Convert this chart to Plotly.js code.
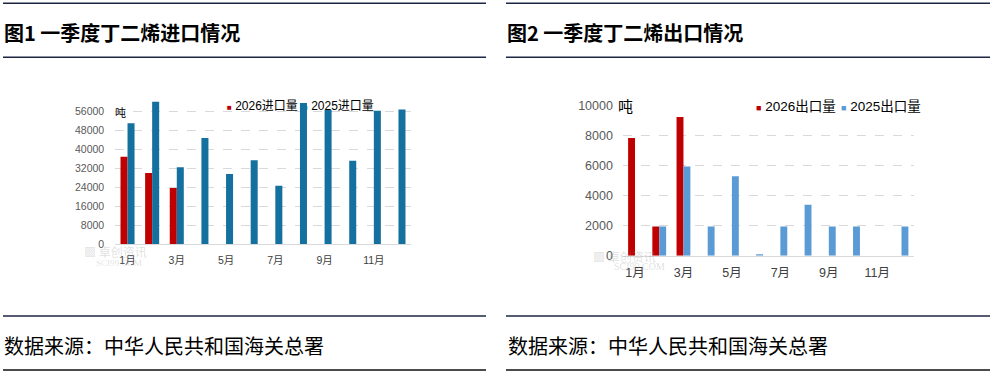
<!DOCTYPE html>
<html>
<head>
<meta charset="utf-8">
<script src="https://cdn.plot.ly/plotly-3.0.1.min.js"></script>
<style>
html,body{margin:0;padding:0;background:#fff;}
#chart{width:996px;height:375px;}
</style>
</head>
<body>
<div id="chart"></div>
<script>
// ---- data ----
var months = ['1月','2月','3月','4月','5月','6月','7月','8月','9月','10月','11月','12月'];
var tickMonths = ['1月','3月','5月','7月','9月','11月'];
var import2026 = [36900, 30000, 23700];
var import2025 = [51000, 60000, 32500, 44800, 29600, 35400, 24700, 59500, 56700, 35200, 56300, 56800];
var export2026 = [7850, 1950, 9250];
var export2025 = [0, 1950, 5950, 1950, 5300, 100, 1950, 3400, 1950, 1950, 0, 1950];
var importNames = ['2026进口量', '2025进口量'];
var exportNames = ['2026出口量', '2025出口量'];
var importTicks = [0, 8000, 16000, 24000, 32000, 40000, 48000, 56000];
var exportTicks = [0, 2000, 4000, 6000, 8000, 10000];
var titles = ['图1 一季度丁二烯进口情况', '图2 一季度丁二烯出口情况'];
var sourceText = '数据来源：中华人民共和国海关总署';
var unit = '吨';

// ---- styles ----
var W = 996, H = 375;
var RED = '#c00000', BLUE1 = '#14709f', BLUE2 = '#5b9bd5';
var FONT = 'Liberation Sans, Noto Sans CJK SC, sans-serif';
var CJK = 'Noto Sans CJK SC, sans-serif';
function px(x){return x / W;}
function py(y){return 1 - y / H;}

var traces = [
  {type:'bar', x: months.slice(0, import2026.length), y: import2026, name: importNames[0],
   marker:{color: RED}, xaxis:'x', yaxis:'y', showlegend:false},
  {type:'bar', x: months, y: import2025, name: importNames[1],
   marker:{color: BLUE1}, xaxis:'x', yaxis:'y', showlegend:false},
  {type:'bar', x: months.slice(0, export2026.length), y: export2026, name: exportNames[0],
   marker:{color: RED}, xaxis:'x2', yaxis:'y2', showlegend:false},
  {type:'bar', x: months, y: export2025, name: exportNames[1],
   marker:{color: BLUE2}, xaxis:'x2', yaxis:'y2', showlegend:false}
];

var gridCommon = {showgrid:true, gridcolor:'#d9d9d9', griddash:'dash', gridwidth:1,
  zeroline:false, showline:false, ticks:'', fixedrange:true};

var layout = {
  width: W, height: H,
  margin:{l:0, r:0, t:0, b:0, pad:0},
  paper_bgcolor:'#fff', plot_bgcolor:'rgba(0,0,0,0)',
  barmode:'group', bargap:0.43, bargroupgap:0,
  showlegend:false,
  xaxis:{domain:[px(115.2), px(410.8)], anchor:'y', type:'category',
    categoryorder:'array', categoryarray: months,
    tickmode:'array', tickvals: tickMonths, ticktext: tickMonths,
    showline:true, linecolor:'#d9d9d9', linewidth:1, showgrid:false, ticks:'',
    ticklabelstandoff:6,
    tickfont:{family:FONT, size:10.5, color:'#404040'}, fixedrange:true},
  yaxis: Object.assign({}, gridCommon, {domain:[py(244.3), py(99.5)], anchor:'x',
    range:[0, 61000], tickmode:'array', tickvals: importTicks,
    ticktext: importTicks.map(String),
    ticklabelstandoff:10,
    tickfont:{family:FONT, size:10.5, color:'#595959'}}),
  xaxis2:{domain:[px(622.9), px(913.6)], anchor:'y2', type:'category',
    categoryorder:'array', categoryarray: months,
    tickmode:'array', tickvals: tickMonths, ticktext: tickMonths,
    showline:true, linecolor:'#d9d9d9', linewidth:1, showgrid:false, ticks:'',
    ticklabelstandoff:5,
    tickfont:{family:FONT, size:12.5, color:'#404040'}, fixedrange:true},
  yaxis2: Object.assign({}, gridCommon, {domain:[py(255.7), py(105.7)], anchor:'x2',
    range:[0, 10000], tickmode:'array', tickvals: exportTicks,
    ticktext: exportTicks.map(String),
    ticklabelstandoff:9,
    tickfont:{family:FONT, size:12.5, color:'#595959'}}),
  shapes:[
    {type:'line', xref:'paper', yref:'paper', x0:px(3), x1:px(486), y0:py(3.3), y1:py(3.3), line:{color:'#1c2541', width:1.5}},
    {type:'line', xref:'paper', yref:'paper', x0:px(3), x1:px(486), y0:py(57.3), y1:py(57.3), line:{color:'#1c2541', width:1.5}},
    {type:'line', xref:'paper', yref:'paper', x0:px(3), x1:px(486), y0:py(316), y1:py(316), line:{color:'#1c2541', width:1.5}},
    {type:'line', xref:'paper', yref:'paper', x0:px(3), x1:px(486), y0:py(370), y1:py(370), line:{color:'#111', width:1.5}},
    {type:'line', xref:'paper', yref:'paper', x0:px(506), x1:px(990), y0:py(3.3), y1:py(3.3), line:{color:'#1c2541', width:1.5}},
    {type:'line', xref:'paper', yref:'paper', x0:px(506), x1:px(990), y0:py(57.3), y1:py(57.3), line:{color:'#1c2541', width:1.5}},
    {type:'line', xref:'paper', yref:'paper', x0:px(506), x1:px(990), y0:py(316), y1:py(316), line:{color:'#1c2541', width:1.5}},
    {type:'line', xref:'paper', yref:'paper', x0:px(506), x1:px(990), y0:py(370), y1:py(370), line:{color:'#111', width:1.5}}
  ],
  annotations:[]
};

function ann(text, x, y, size, opts){
  var a = {text:text, xref:'paper', yref:'paper', x:px(x), y:py(y), xanchor:'left', yanchor:'middle',
    showarrow:false, font:{family:CJK, size:size, color:'#000'}};
  return Object.assign(a, opts || {});
}
// titles & source
layout.annotations.push(ann('<b>' + titles[0] + '</b>', 2, 32, 20));
layout.annotations.push(ann('<b>' + titles[1] + '</b>', 505, 32, 20));
layout.annotations.push(ann(sourceText, 2, 345, 20));
layout.annotations.push(ann(sourceText, 505.5, 345, 20));
// units
layout.annotations.push(ann(unit, 113, 111.5, 11));
layout.annotations.push(ann(unit, 616, 106, 15));
// legends
function legendItem(color, name, x, y, size, sq){
  return ann('<span style="color:' + color + ';font-size:' + sq + 'px">■</span> ' + name, x, y, size,
    {font:{family:FONT, size:size, color:'#000'}});
}
layout.annotations.push(legendItem(RED, importNames[0], 224.5, 106, 12, 8));
layout.annotations.push(legendItem(BLUE1, importNames[1], 300.5, 106, 12, 8));
layout.annotations.push(legendItem(RED, exportNames[0], 753.5, 106.5, 13.5, 9));
layout.annotations.push(legendItem(BLUE2, exportNames[1], 838.5, 106.5, 13.5, 9));
// watermarks (faint, as in the reference)
var wmc = 'rgba(150,150,150,0.3)';
layout.annotations.push(ann('▩ 卓创资讯', 82, 251, 12, {font:{family:CJK, size:12, color:wmc}}));
layout.annotations.push(ann('SCI99.COM', 94, 263, 9, {font:{family:'Liberation Serif, serif', size:9, color:wmc}}));
layout.annotations.push(ann('▩ 卓创资讯', 591, 256, 12, {font:{family:CJK, size:12, color:wmc}}));
layout.annotations.push(ann('SCI99.COM', 612, 266, 10, {font:{family:'Liberation Serif, serif', size:10, color:wmc}}));

Plotly.newPlot('chart', traces, layout, {staticPlot:true, displayModeBar:false});
</script>
</body>
</html>
